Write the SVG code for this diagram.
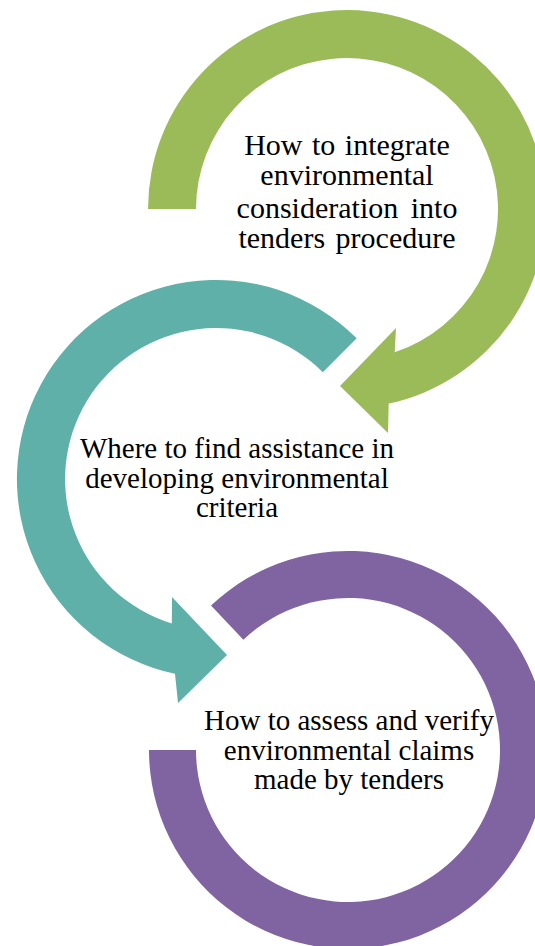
<svg xmlns="http://www.w3.org/2000/svg" width="535" height="946" viewBox="0 0 535 946">
<style>
text{font-family:"Liberation Serif","Times New Roman",serif;fill:#000;text-anchor:middle}
.g{fill:#9BBB59}.t{fill:#5FB0A8}.p{fill:#8064A2}
.s30{font-size:30px}.s29{font-size:29px}
</style>
<rect width="535" height="946" fill="#fff"/>
<g id="connectors"></g>
<g id="node-purple">
<path class="p" d="M211,605.6 A199,199 0 1 1 149,750 L196,750 A152,152 0 1 0 243.4,639.7 Z"/>
<text class="s29" x="349" y="730">How to assess and verify</text>
<text class="s29" x="349" y="760">environmental claims</text>
<text class="s29" x="349" y="789">made by tenders</text>
</g>
<g id="node-teal">
<path class="t" d="M356.7,338.3 A199,199 0 1 0 175,673.7 L178,703 L227,655 L172,597 L171.8,623.4 A151,151 0 1 1 322.8,372.2 Z"/>
<text class="s29" x="237" y="458">Where to find assistance in</text>
<text class="s29" x="237" y="488">developing environmental</text>
<text class="s29" x="237" y="517">criteria</text>
</g>
<g id="node-green">
<path class="g" d="M148,209 A199,199 0 1 1 388.7,403.6 L388,433 L340,386 L396,328 L394.7,352.3 A151,151 0 1 0 196,209 Z"/>
<text class="s30" x="347" y="155" word-spacing="2">How to integrate</text>
<text class="s30" x="347" y="185">environmental</text>
<text class="s30" x="347" y="218" word-spacing="5">consideration into</text>
<text class="s30" x="347" y="248" word-spacing="3">tenders procedure</text>
</g>
</svg>
